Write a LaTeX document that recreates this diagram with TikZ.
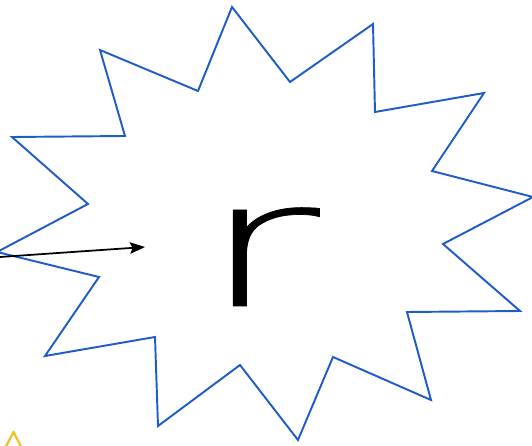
\documentclass[tikz,border=0pt]{standalone}
\usepackage{fontspec}
\usepackage{tikz}
\usetikzlibrary{arrows.meta, positioning}
\newfontfamily\letterfont[FakeBold=0.4]{DejaVu Sans ExtraLight}
\definecolor{burstblue}{RGB}{32,92,200}
\definecolor{triyellow}{RGB}{236,196,40}
\tikzset{
    burstline/.style={draw=burstblue, line width=1.1pt, line join=miter},
    pointer/.style={-{Stealth[length=3mm, width=2.3mm, inset=0.5mm]}, line width=1pt, black},
    letterbox/.style={inner sep=0pt, anchor=base, font=\letterfont\fontsize{100}{100}\selectfont, xscale=1.65}
}
\begin{document}
\begin{tikzpicture}[x=0.02cm, y=-0.02cm]
    \useasboundingbox (0,0) rectangle (532,446);
    \clip (0,0) rectangle (532,446);
    % ngoi sao
    \draw[burstline] (232,7) -- (290,82) -- (373,24) -- (375,112) -- (484,93)
        -- (432,171) -- (533,197) -- (443,244) -- (520,311) -- (407,312)
        -- (431,400) -- (333,357) -- (298,440) -- (240,365) -- (158,426)
        -- (155,337) -- (45,356) -- (99,277) -- (-3,252) -- (88,204)
        -- (12,137) -- (125,136) -- (100,50) -- (198,91) -- cycle;
    % chu cai
    \node[letterbox] (letter) at (260,306) {r};
    % mui ten
    \coordinate (arrstart) at (0,257);
    \coordinate (arrtip) at (145,247);
    \draw[pointer] (arrstart) -- (arrtip);
    % tam giac vang
    \draw[triyellow, line width=1.3pt, line join=round] (13.5,432) -- (27,458) -- (0,458) -- cycle;
\end{tikzpicture}
\end{document}
